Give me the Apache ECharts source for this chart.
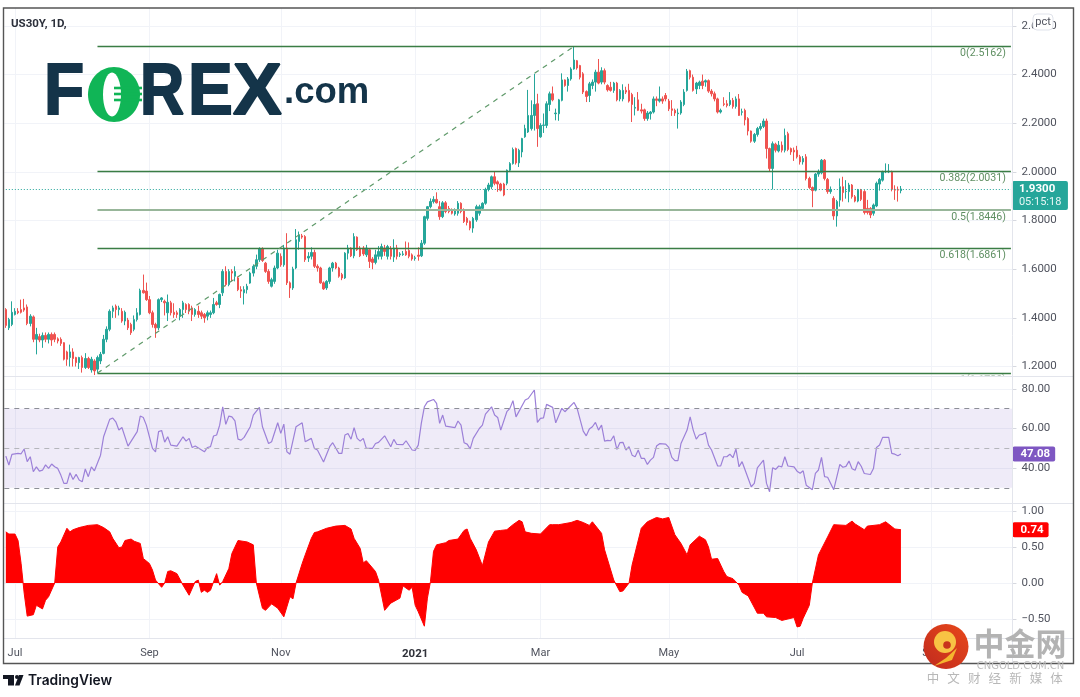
<!DOCTYPE html>
<html><head><meta charset="utf-8">
<style>html,body{margin:0;padding:0;background:#fff}#c{width:1080px;height:697px}</style>
<script src="https://cdn.jsdelivr.net/npm/echarts@6/dist/echarts.min.js"></script>
</head><body><div id="c"></div>
<script>
const slotCount = 330;
const tickBars = [3,47,90,134,175,217,259,303];
const tickLabels = ['Jul','Sep','Nov','2021','Mar','May','Jul','Sep'];
const opens = [
1.434,1.359,1.373,1.414,1.427,1.434,1.441,1.445,1.377,1.404,
1.312,1.323,1.309,1.328,1.312,1.332,1.332,1.314,1.312,1.298,
1.260,1.237,1.26,1.237,1.216,1.237,1.196,1.233,1.186,1.223,
1.189,1.223,1.254,1.312,1.353,1.427,1.448,1.434,1.427,1.387,
1.391,1.373,1.353,1.393,1.414,1.513,1.51,1.475,1.421,1.373,
1.359,1.475,1.468,1.421,1.462,1.423,1.421,1.407,1.434,1.455,
1.455,1.441,1.414,1.427,1.421,1.414,1.407,1.414,1.421,1.462,
1.455,1.503,1.591,1.537,1.591,1.571,1.564,1.516,1.503,1.516,
1.543,1.584,1.612,1.639,1.683,1.625,1.591,1.53,1.55,1.605,
1.653,1.618,1.687,1.544,1.523,1.605,1.714,1.737,1.734,1.646,
1.653,1.669,1.612,1.605,1.544,1.523,1.55,1.605,1.625,1.605,
1.578,1.564,1.666,1.687,1.655,1.732,1.687,1.687,1.659,1.68,
1.642,1.628,1.653,1.653,1.687,1.653,1.683,1.65,1.687,1.659,
1.66,1.673,1.677,1.659,1.644,1.658,1.655,1.707,1.809,1.857,
1.878,1.887,1.857,1.816,1.873,1.85,1.844,1.827,1.83,1.871,
1.844,1.809,1.796,1.769,1.803,1.83,1.85,1.871,1.928,1.939,
1.98,1.959,1.95,1.95,1.953,2.007,2.034,2.096,2.037,2.082,
2.144,2.164,2.178,2.232,2.28,2.144,2.191,2.191,2.277,2.321,
2.239,2.239,2.294,2.378,2.355,2.382,2.423,2.457,2.437,2.403,
2.33,2.314,2.355,2.369,2.41,2.369,2.416,2.355,2.348,2.335,
2.365,2.30,2.30,2.335,2.335,2.318,2.262,2.296,2.255,2.255,
2.219,2.239,2.246,2.30,2.291,2.30,2.314,2.291,2.259,2.253,
2.239,2.242,2.277,2.335,2.416,2.389,2.341,2.355,2.373,2.369,
2.375,2.332,2.321,2.30,2.246,2.28,2.28,2.277,2.294,2.269,
2.30,2.245,2.253,2.219,2.168,2.126,2.154,2.178,2.187,2.209,
2.096,2.014,2.114,2.086,2.11,2.089,2.157,2.096,2.089,2.089,
2.062,2.041,2.062,1.973,1.936,1.925,1.991,1.996,2.048,1.969,
1.919,1.891,1.819,1.884,1.939,1.919,1.919,1.946,1.898,1.88,
1.925,1.919,1.85,1.85,1.83,1.86,1.95,1.966,2.0,2.0,
2.0,1.928,1.928,1.923];
const closes = [
1.369,1.393,1.423,1.427,1.421,1.423,1.432,1.377,1.407,1.312,
1.332,1.309,1.328,1.312,1.332,1.309,1.312,1.305,1.295,1.230,
1.230,1.26,1.233,1.216,1.237,1.196,1.233,1.196,1.23,1.182,
1.237,1.25,1.312,1.353,1.427,1.441,1.434,1.441,1.387,1.423,
1.359,1.339,1.393,1.421,1.513,1.503,1.475,1.421,1.373,1.359,
1.475,1.482,1.462,1.464,1.421,1.414,1.414,1.434,1.462,1.434,
1.427,1.414,1.434,1.414,1.407,1.40,1.421,1.421,1.455,1.455,
1.496,1.591,1.537,1.591,1.584,1.591,1.516,1.51,1.516,1.53,
1.584,1.612,1.639,1.683,1.636,1.591,1.55,1.557,1.605,1.666,
1.618,1.687,1.544,1.523,1.601,1.721,1.741,1.732,1.639,1.653,
1.669,1.612,1.605,1.544,1.519,1.55,1.605,1.625,1.605,1.571,
1.564,1.666,1.687,1.655,1.734,1.68,1.655,1.663,1.687,1.632,
1.628,1.659,1.673,1.693,1.673,1.693,1.653,1.687,1.653,1.663,
1.663,1.659,1.653,1.642,1.647,1.653,1.707,1.816,1.857,1.878,
1.887,1.873,1.816,1.873,1.837,1.837,1.83,1.844,1.871,1.837,
1.796,1.792,1.769,1.809,1.857,1.857,1.871,1.928,1.946,1.98,
1.953,1.95,1.925,1.905,2.007,2.034,2.092,2.037,2.089,2.137,
2.178,2.232,2.232,2.277,2.178,2.191,2.193,2.28,2.321,2.296,
2.242,2.296,2.378,2.355,2.382,2.423,2.46,2.427,2.389,2.328,
2.31,2.362,2.369,2.41,2.365,2.416,2.369,2.337,2.335,2.365,
2.296,2.335,2.335,2.328,2.291,2.277,2.265,2.253,2.25,2.219,
2.242,2.246,2.30,2.294,2.30,2.291,2.30,2.259,2.253,2.242,
2.242,2.287,2.328,2.414,2.389,2.335,2.365,2.369,2.355,2.375,
2.332,2.321,2.30,2.246,2.253,2.277,2.273,2.294,2.269,2.30,
2.232,2.247,2.214,2.168,2.126,2.154,2.178,2.187,2.209,2.096,
2.014,2.116,2.089,2.11,2.089,2.15,2.092,2.082,2.082,2.062,
2.041,2.055,1.973,1.936,1.923,1.991,2.0,2.048,1.973,1.919,
1.928,1.819,1.878,1.939,1.915,1.92,1.946,1.898,1.88,1.925,
1.887,1.833,1.833,1.823,1.864,1.953,1.969,2.0,2.002,2.003,
1.928,1.925,1.925,1.93];
const highs = [
1.44,1.40,1.468,1.44,1.44,1.475,1.478,1.455,1.415,1.41,
1.359,1.335,1.34,1.34,1.34,1.34,1.34,1.32,1.32,1.30,
1.265,1.29,1.275,1.24,1.24,1.245,1.255,1.24,1.24,1.23,
1.245,1.26,1.33,1.365,1.435,1.45,1.455,1.45,1.44,1.43,
1.40,1.38,1.41,1.44,1.52,1.578,1.545,1.49,1.43,1.38,
1.48,1.485,1.475,1.496,1.47,1.46,1.43,1.44,1.47,1.46,
1.46,1.45,1.44,1.45,1.43,1.42,1.43,1.43,1.482,1.47,
1.50,1.60,1.612,1.60,1.60,1.612,1.57,1.53,1.53,1.54,
1.59,1.62,1.66,1.69,1.69,1.63,1.60,1.565,1.615,1.68,
1.665,1.70,1.748,1.55,1.61,1.765,1.755,1.745,1.74,1.67,
1.69,1.68,1.62,1.61,1.55,1.555,1.61,1.63,1.63,1.61,
1.585,1.67,1.70,1.69,1.748,1.735,1.695,1.695,1.70,1.685,
1.65,1.68,1.695,1.705,1.70,1.70,1.695,1.723,1.70,1.67,
1.675,1.714,1.71,1.665,1.655,1.69,1.72,1.82,1.86,1.891,
1.90,1.916,1.88,1.88,1.88,1.86,1.85,1.85,1.88,1.875,
1.85,1.815,1.80,1.815,1.865,1.865,1.875,1.935,1.955,1.985,
2.0,1.965,1.955,1.955,2.01,2.04,2.10,2.10,2.095,2.14,
2.194,2.337,2.294,2.403,2.321,2.20,2.24,2.29,2.33,2.351,
2.26,2.30,2.405,2.38,2.39,2.43,2.515,2.46,2.44,2.41,
2.335,2.37,2.38,2.42,2.464,2.43,2.425,2.36,2.37,2.37,
2.37,2.34,2.36,2.35,2.362,2.325,2.307,2.328,2.28,2.26,
2.25,2.25,2.31,2.31,2.351,2.31,2.324,2.30,2.295,2.26,
2.26,2.295,2.34,2.423,2.42,2.40,2.37,2.375,2.40,2.38,
2.38,2.34,2.33,2.305,2.26,2.307,2.295,2.328,2.304,2.31,
2.32,2.26,2.26,2.225,2.17,2.16,2.185,2.20,2.219,2.219,
2.10,2.125,2.12,2.127,2.125,2.178,2.165,2.10,2.10,2.107,
2.07,2.065,2.073,1.98,1.94,1.995,2.01,2.053,2.053,1.975,
1.94,1.90,1.885,1.973,1.98,1.966,1.955,1.95,1.905,1.93,
1.93,1.925,1.885,1.855,1.87,1.96,1.975,2.005,2.035,2.032,
2.005,1.945,1.94,1.942];
const lows = [
1.359,1.35,1.366,1.41,1.415,1.418,1.425,1.37,1.365,1.30,
1.25,1.30,1.277,1.30,1.295,1.285,1.30,1.295,1.285,1.225,
1.203,1.20,1.20,1.20,1.19,1.175,1.19,1.19,1.175,1.165,
1.173,1.21,1.25,1.30,1.345,1.40,1.40,1.41,1.38,1.37,
1.35,1.33,1.345,1.385,1.41,1.50,1.47,1.415,1.36,1.318,
1.35,1.465,1.41,1.387,1.41,1.40,1.40,1.39,1.40,1.42,
1.415,1.387,1.405,1.40,1.395,1.38,1.39,1.40,1.415,1.45,
1.44,1.49,1.53,1.53,1.55,1.55,1.51,1.482,1.455,1.50,
1.54,1.57,1.60,1.63,1.63,1.585,1.54,1.525,1.54,1.60,
1.61,1.61,1.535,1.482,1.515,1.60,1.68,1.725,1.63,1.63,
1.64,1.605,1.59,1.54,1.515,1.515,1.54,1.59,1.60,1.565,
1.555,1.56,1.64,1.65,1.645,1.675,1.65,1.655,1.65,1.605,
1.60,1.62,1.64,1.64,1.655,1.64,1.64,1.63,1.64,1.65,
1.655,1.655,1.645,1.635,1.635,1.635,1.65,1.70,1.80,1.85,
1.87,1.87,1.803,1.81,1.83,1.83,1.825,1.82,1.82,1.83,
1.79,1.78,1.76,1.75,1.795,1.82,1.84,1.865,1.92,1.93,
1.945,1.918,1.92,1.90,1.945,2.0,2.03,2.03,2.02,2.06,
2.14,2.16,2.17,2.17,2.103,2.14,2.16,2.18,2.25,2.29,
2.212,2.21,2.29,2.35,2.33,2.375,2.42,2.42,2.38,2.32,
2.287,2.287,2.34,2.33,2.36,2.36,2.36,2.33,2.33,2.325,
2.29,2.29,2.29,2.32,2.285,2.205,2.232,2.25,2.24,2.21,
2.21,2.215,2.24,2.27,2.285,2.28,2.29,2.25,2.23,2.23,
2.178,2.235,2.27,2.33,2.38,2.33,2.32,2.34,2.34,2.35,
2.325,2.31,2.29,2.24,2.24,2.27,2.265,2.27,2.26,2.26,
2.23,2.232,2.191,2.15,2.12,2.119,2.145,2.17,2.18,2.055,
2.0,1.928,2.08,2.08,2.08,2.08,2.085,2.07,2.045,2.055,
2.03,2.03,1.965,1.93,1.855,1.92,1.98,1.99,1.965,1.91,
1.91,1.803,1.775,1.857,1.878,1.89,1.875,1.89,1.875,1.875,
1.88,1.825,1.825,1.81,1.82,1.855,1.923,1.96,1.995,1.995,
1.92,1.885,1.878,1.912];
const rsiBars = [0,1,2,4,5,6,7,8,9,10,11,12,13,14,15,16,17,18,19,20,21,22,23,24,25,26,27,28,29,31,32,34,35,36,37,38,40,43,44,45,46,48,49,50,51,52,53,54,56,58,59,60,61,62,65,66,67,68,69,70,71,72,73,74,75,76,77,78,80,81,83,84,86,87,89,90,91,92,93,95,97,98,100,101,102,104,106,107,109,110,111,112,113,114,115,116,117,118,120,121,122,124,126,127,128,130,131,133,134,135,136,137,138,140,141,142,143,144,147,148,149,150,151,152,153,155,156,157,159,160,161,162,164,165,166,167,170,171,173,174,175,176,177,179,180,182,183,186,187,189,190,191,192,193,194,195,196,197,198,199,200,201,202,203,204,205,206,207,208,209,210,211,212,213,214,216,217,218,219,220,221,223,224,225,226,227,228,229,230,231,233,234,235,236,237,238,239,240,241,244,245,246,248,249,250,251,252,253,254,255,256,258,259,260,261,262,264,265,266,267,268,269,271,273,274,275,276,277,278,279,280,281,283,284,285,286,287,289,290,291,292,293];
const rsiValues = [46,41.5,46.9,47.4,47.2,49.6,43.2,45.7,38.1,40.6,38.4,38.9,41.6,39.8,42,40.6,39.8,36.4,32.2,32.2,37.6,34.2,36.8,33.9,33,39.5,35.6,40.6,38.6,46.5,55.8,64.6,65.3,63.4,59.2,60.5,51.1,58.4,66.3,65.6,61.7,49.9,48.2,58.4,59,53.1,55.8,51.6,51.1,55.8,53.6,55,50.4,51.1,48.2,50.4,50.8,56.2,56.7,61.7,71,62.1,66.3,65.9,63.9,54.6,54.1,55.5,60.9,66.8,70.7,60.9,52.4,53.3,62.9,57.5,62.2,48.2,47,60.9,62.9,53.3,55,49.9,49.1,43,50.8,52.8,47.4,47.4,56.7,57.5,54.6,60.4,55,53.6,55,49.9,49.9,52.4,53,56.3,50.8,54.5,51.9,51.8,53.8,49.1,48.9,51.6,62.6,71,73.5,74.7,72.7,62.6,66.8,61.2,60.4,63.8,61.7,52.8,52.1,49.7,55,60,61.7,67.3,71,66.8,65.6,59.2,68.5,70.2,74.1,65.9,74.4,75.2,79.5,63.1,65.1,65.4,72.2,70.7,62.9,70.2,68.5,73.2,70.2,58.7,56.3,59.7,60.9,63.1,59.2,61.7,53.6,54,53.8,56.3,49.4,52.8,53,49.1,50.8,46.5,45.7,49.1,44.9,44.9,41.8,44,45.4,51.1,52.3,52.1,50.4,45.4,43.7,43.7,52.4,59.2,65.9,59.2,54.6,56.7,57,58,51.6,49.1,41,41.1,45.7,45.7,47,45.2,49.6,40.6,43.2,30.5,32.2,40.1,44,32.2,28,40.1,39.3,41,40.6,45.7,41,40.6,38.4,37.3,38.6,31.3,29,37.3,39,45.4,35.6,35.3,29,41.8,40.4,40.8,43.5,39.6,38.9,43.2,40.9,37.2,36.7,39.7,50.4,51.6,55.5,55.5,47.4,47,46.2,47.08];
const corrBars = [0,1,3,4,5,6,7,9,10,12,13,14,16,17,18,20,21,22,24,25,27,30,32,34,35,37,38,39,41,42,44,45,47,48,49,51,52,53,54,56,58,60,62,63,64,65,66,67,69,70,71,73,74,76,79,81,82,84,85,87,89,91,93,94,95,97,98,100,101,102,105,108,111,113,114,116,117,118,121,122,124,126,129,130,132,133,134,135,137,138,139,140,141,144,145,148,150,151,152,154,156,158,160,162,164,166,168,169,170,172,175,178,179,181,185,187,189,191,192,195,196,198,199,201,202,204,205,208,210,213,215,217,219,221,223,224,227,229,230,231,233,235,236,238,240,241,243,246,248,249,252,254,256,258,259,260,261,263,264,266,269,271,275,277,278,281,282,286,288,291,293];
const corrValues = [.71,.68,.68,.59,.27,-.14,-.46,-.44,-.31,-.36,-.24,-.19,0,.5,.57,.76,.71,.74,.77,.78,.8,.81,.77,.71,.62,.49,.5,.59,.61,.58,.55,.34,.27,.18,.04,-.06,0,.16,.17,.13,-.03,-.17,.02,.04,-.13,-.1,-.13,-.1,.13,-.03,.02,.2,.41,.59,.57,.53,0,-.35,-.38,-.29,-.35,-.47,-.19,-.22,0,.27,.39,.62,.7,.71,.76,.79,.8,.75,.62,.48,.28,.31,.16,.04,-.38,-.28,-.21,-.04,-.1,-.06,-.31,-.4,-.6,-.21,.02,.44,.53,.56,.59,.61,.73,.75,.62,.46,.24,.57,.72,.73,.74,.81,.87,.85,.71,.69,.68,.81,.81,.81,.84,.87,.84,.8,.85,.69,.46,.18,.04,-.12,-.11,0,.25,.76,.85,.91,.89,.91,.67,.55,.39,.53,.65,.6,.5,.33,.34,.16,.09,.06,-.03,-.13,-.18,-.42,-.42,-.47,-.48,-.52,-.5,-.48,-.61,-.6,-.49,-.31,0,.39,.64,.81,.8,.86,.82,.74,.79,.81,.85,.75,.74];
const priceTicks = [1.2,1.4,1.6,1.8,2.0,2.2,2.4,2.6];
const rsiTicks = [40,60,80];
const corrTicks = [-0.5,0,0.5,1];
const fibLevels = ['0','0.382','0.5','0.618','1'];
const fibPrices = [2.5162,2.0031,1.8446,1.6861,1.173];
const trendStart = [30,1.173];
const trendEnd = [186,2.5162];
const lastPrice = 1.93;
const countdown = '05:15:18';
const lastRsi = 47.08;
const lastCorr = 0.74;
const symbol = 'US30Y, 1D,';

const categories = Array.from({length:slotCount},(_,i)=>{const k=tickBars.indexOf(i);return k>=0?tickLabels[k]:'';});
const isTick = i=>tickBars.includes(i);
const FONT='Roboto';
const lastSlot = slotCount-1;
const GL='#f1f3f8';
const NAVY='#143449';
const candles = opens.map((o,i)=>[o,closes[i],lows[i],highs[i]]);
const paneX = (gi,showLabel)=>({
  type:'category',gridIndex:gi,data:categories,boundaryGap:true,
  axisLine:{show:false},
  axisTick:{show:false},
  axisLabel:{show:showLabel,interval:i=>isTick(i),margin:10,fontFamily:FONT,fontSize:11,color:'#50535e',
    formatter:v=>v==='2021'?'{b|2021}':v,rich:{b:{fontWeight:'bold',fontFamily:FONT,fontSize:11.5,color:'#30323a'}}},
  splitLine:{show:true,interval:i=>isTick(i),alignWithLabel:true,lineStyle:{color:GL,width:1}}
});
const paneY = (gi,min,max,ticks,dec)=>({
  type:'value',gridIndex:gi,position:'right',min,max,scale:true,
  axisLine:{show:false},
  axisTick:{show:true,length:4,lineStyle:{color:'#d6d8df'},customValues:ticks},
  axisLabel:{margin:9,padding:[2,0,0,0],fontFamily:FONT,fontSize:11.5,color:'#50535e',customValues:ticks,
    formatter:v=>Number(v).toFixed(dec).replace('-','\u2212'),showMinLabel:true,showMaxLabel:true},
  splitLine:{show:true,lineStyle:{color:GL,width:1}}
});
const grid=(top,h)=>({left:4.3,top,width:1008.15,height:h,show:false,containLabel:false});

const fibLines = fibPrices.map((p,i)=>[
  {coord:[30,p],
   lineStyle:{color:i===2?'#98b69a':'#3a7d44',width:i===2?2:1.3,type:'solid'},
   label:{show:true,position:'insideEndBottom',distance:[5,2],formatter:fibLevels[i]+'('+p.toFixed(4)+')',
     color:'#5f8f62',fontFamily:FONT,fontSize:10.6}},
  {coord:[lastSlot,p]}
]);
const tagLine={color:'rgba(0,0,0,0)',width:0};
const letter=(t,x,sx)=>({type:'text',z:5,x,y:94,scaleX:sx,style:{text:t,fontFamily:'Liberation Sans',fontWeight:'bold',fontSize:73,fill:NAVY,stroke:NAVY,lineWidth:2,verticalAlign:'middle'}});
const option={
  animation:false,backgroundColor:'#fff',
  grid:[grid(8,368),grid(376,127),grid(503,135)],
  xAxis:[paneX(0,false),paneX(1,false),paneX(2,true)],
  yAxis:[paneY(0,1.1611,2.6736,priceTicks,4),paneY(1,22.28,86.58,rsiTicks,2),paneY(2,-0.764,1.111,corrTicks,2)],
  series:[
   {type:'candlestick',xAxisIndex:0,yAxisIndex:0,data:candles,barWidth:2,
    itemStyle:{color:'#26a69a',color0:'#ef5350',borderColor:'#26a69a',borderColor0:'#ef5350',borderWidth:1},
    markLine:{silent:true,symbol:'none',animation:false,clip:false,
      data:[...fibLines,
        [{coord:trendStart,lineStyle:{color:'#5f9a6a',width:1.2,type:[5,5]},label:{show:false}},{coord:trendEnd}],
        [{coord:[0,lastPrice],lineStyle:{color:'#26a69a',width:1,type:[1,2]},
          label:{show:true,position:'end',distance:1,offset:[0,6.5],
            formatter:'{a|'+lastPrice.toFixed(4)+'}\n{b|'+countdown+'}',
            backgroundColor:'#26a69a',borderRadius:2,padding:[2,4,1,7],
            rich:{a:{color:'#fff',fontFamily:FONT,fontWeight:'bold',fontSize:11.5,lineHeight:13,width:45},
                  b:{color:'#e6f7f5',fontFamily:FONT,fontSize:11,lineHeight:13,width:45}}}},
         {coord:[lastSlot,lastPrice]}]
      ]}},
   {type:'line',xAxisIndex:1,yAxisIndex:1,data:rsiBars.map((b,i)=>[b,rsiValues[i]]),showSymbol:false,
    lineStyle:{color:'#9c80d8',width:1.2},
    markArea:{silent:true,itemStyle:{color:'rgba(126,87,194,0.12)'},data:[[{yAxis:30},{yAxis:70}]]},
    markLine:{silent:true,symbol:'none',clip:false,
      data:[
       {yAxis:70,lineStyle:{color:'#8d8f97',type:[5,5],width:1},label:{show:false}},
       {yAxis:50,lineStyle:{color:'#b5b6bc',type:[5,5],width:1},label:{show:false}},
       {yAxis:30,lineStyle:{color:'#8d8f97',type:[5,5],width:1},label:{show:false}},
       {yAxis:lastRsi,lineStyle:tagLine,
        label:{show:true,position:'end',distance:0,formatter:lastRsi.toFixed(2),backgroundColor:'#7e57c2',borderRadius:2,
          padding:[2,5,2,8],color:'#fff',fontFamily:FONT,fontWeight:'bold',fontSize:11.5,lineHeight:11}}
      ]}},
   {type:'line',xAxisIndex:2,yAxisIndex:2,data:corrBars.map((b,i)=>[b,corrValues[i]]),showSymbol:false,
    lineStyle:{color:'#ff0000',width:1},areaStyle:{color:'#ff0000',opacity:1,origin:0},
    markLine:{silent:true,symbol:'none',clip:false,
      data:[{yAxis:lastCorr,lineStyle:tagLine,
        label:{show:true,position:'end',distance:0,formatter:lastCorr.toFixed(2),backgroundColor:'#ff0000',borderRadius:2,
          padding:[2,5,2,8],color:'#fff',fontFamily:FONT,fontWeight:'bold',fontSize:11.5,lineHeight:11}}]}}
  ],
  graphic:[
   {type:'rect',z:50,shape:{x:940,y:375.5,width:72,height:12},style:{fill:'#fff'}},
   ...[376,503,638].map(y=>({type:'line',z:60,shape:{x1:4,y1:y+.5,x2:1073,y2:y+.5},style:{stroke:'#e3e5ec',lineWidth:1}})),
   {type:'line',z:60,shape:{x1:1012.5,y1:8,x2:1012.5,y2:663},style:{stroke:'#e3e5ec',lineWidth:1}},
   {type:'rect',z:61,shape:{x:3.5,y:8,width:1070,height:655.5},style:{fill:'none',stroke:'#555',lineWidth:1.4}},
   {type:'text',z:62,x:11,y:18,style:{text:symbol,fontFamily:FONT,fontWeight:'bold',fontSize:11.5,fill:'#2b2f3a'}},
   {type:'rect',z:62,shape:{x:1033,y:14,width:20,height:16,r:4},style:{fill:'#fff',stroke:'#e0e3eb',lineWidth:1}},
   {type:'text',z:63,x:1043,y:22,style:{text:'pct',align:'center',verticalAlign:'middle',fontFamily:FONT,fontSize:11,fill:'#50535e'}},
   letter('F',44,0.9),
   {type:'ellipse',z:5,shape:{cx:114,cy:94.5,rx:26,ry:27.5},style:{fill:'#10b556'}},
   {type:'ellipse',z:5,shape:{cx:112,cy:94.5,rx:9,ry:22},style:{fill:'#fff'}},
   ...[88,94,100].map(y=>({type:'line',z:6,shape:{x1:114,y1:y,x2:142,y2:y},style:{stroke:'#10b556',lineWidth:2.6}})),
   letter('R',140,0.84),
   letter('E',188,0.92),
   letter('X',233,1.0),
   {type:'text',z:5,x:284,y:93,style:{text:'.com',fontFamily:'Liberation Sans',fontWeight:'bold',fontSize:36.5,fill:NAVY,verticalAlign:'middle'}},
   {type:'polygon',z:62,shape:{points:[[3,675],[14,675],[14,685.5],[8,685.5],[8,679],[3,679]]},style:{fill:'#131722'}},
   {type:'circle',z:62,shape:{cx:17,cy:677,r:2},style:{fill:'#131722'}},
   {type:'polygon',z:62,shape:{points:[[19,675],[23.5,675],[19.5,685.5],[15,685.5]]},style:{fill:'#131722'}},
   {type:'text',z:62,x:28,y:680.5,style:{text:'TradingView',fontFamily:'Inter',fontWeight:600,fontSize:13.8,fill:'#131722',verticalAlign:'middle'}},
   {type:'circle',z:70,shape:{cx:946,cy:646.5,r:22.5},style:{fill:{type:'linear',x:1,y:0,x2:0,y2:1,colorStops:[{offset:0,color:'#e8481a'},{offset:1,color:'#c02a1e'}]}}},
   {type:'circle',z:71,shape:{cx:945,cy:642,r:11},style:{fill:'#f8c344'}},
   {type:'circle',z:72,shape:{cx:947,cy:645,r:3.8},style:{fill:'#c8341c'}},
   {type:'polygon',z:71,shape:{points:[[957,648],[952,660],[934,666],[946,658]]},style:{fill:'#f5b52e'}},
   {type:'text',z:70,x:1020,y:643,style:{text:'中金网',align:'center',verticalAlign:'middle',fontFamily:'Noto Sans CJK SC',fontWeight:'bold',fontSize:31,fill:'#b3b3b3'}},
   {type:'text',z:70,x:1020.5,y:666.5,style:{text:'CNGOLD.COM.CN',align:'center',verticalAlign:'middle',fontFamily:'DejaVu Sans',fontSize:10,fill:'#bdbdbd'}},
   ...['中','文','财','经','新','媒','体'].map((t,i)=>({type:'text',z:70,x:933+i*20.6,y:678.5,style:{text:t,align:'center',verticalAlign:'middle',fontFamily:'Noto Sans CJK SC',fontSize:12.5,fill:'#b8b8b8'}}))
  ]
};
const chart=echarts.init(document.getElementById('c'),null,{renderer:'canvas',width:1080,height:697});
chart.setOption(option);
</script></body></html>
